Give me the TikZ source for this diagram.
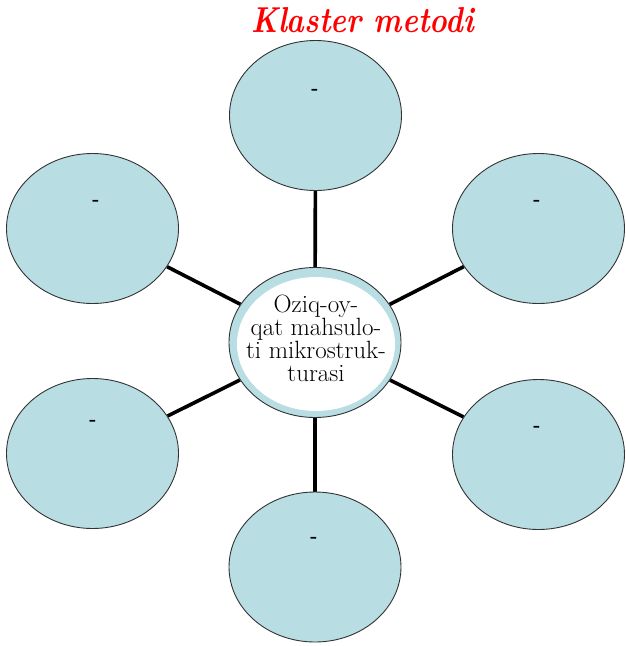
\documentclass[tikz,border=0pt]{standalone}
\usepackage{fontspec}
\usetikzlibrary{shapes.geometric,backgrounds}
\definecolor{bubble}{RGB}{184,222,228}
\definecolor{titlered}{RGB}{255,0,0}
\begin{document}
\begin{tikzpicture}[x=1pt,y=-1pt,
  bub/.style={ellipse,draw=black!80,line width=0.9pt,fill=bubble,minimum width=172pt,minimum height=150pt,inner sep=0pt},
  link/.style={line width=3.6pt,black},
  dashlbl/.style={font=\fontsize{19}{19}\selectfont\bfseries,anchor=base,inner sep=0pt},
]
\useasboundingbox (0,0) rectangle (625,646);
% title
\node[font=\fontsize{36}{36}\selectfont\bfseries\itshape,text=titlered,anchor=base,inner sep=0pt] (title) at (362.5,32) {\scalebox{0.83}[1]{Klaster metodi}};
% bubbles
\node[bub] (c)  at (315,342.5) {};
\node[bub] (t)  at (315.5,115.5) {};
\node[bub] (tl) at (92.5,228.5) {};
\node[bub] (tr) at (538.5,228.5) {};
\node[bub] (bl) at (92.5,453.5) {};
\node[bub] (br) at (538.5,454.5) {};
\node[bub] (b)  at (315,567) {};
% connectors
\begin{scope}[on background layer]
\draw[link] (c) -- (t);
\draw[link] (c) -- (b);
\draw[link] (c) -- (tl);
\draw[link] (c) -- (tr);
\draw[link] (c) -- (bl);
\draw[link] (c) -- (br);
\end{scope}
% centre text area
\node[ellipse,fill=white,minimum width=158pt,minimum height=134pt,inner sep=0pt] (cw) at (316,344) {};
\node[align=center,font=\fontsize{25}{23}\selectfont,inner sep=0pt] (ct) at (316,338) {Oziq-oy-\\qat mahsulo-\\ti mikrostruk-\\turasi};
% dashes
\node[dashlbl] (dt)  at (315,94) {-};
\node[dashlbl] (dtl) at (96,205) {-};
\node[dashlbl] (dtr) at (537,205) {-};
\node[dashlbl] (dbl) at (93,425) {-};
\node[dashlbl] (dbr) at (537,431) {-};
\node[dashlbl] (db)  at (314,542) {-};
\end{tikzpicture}
\end{document}
